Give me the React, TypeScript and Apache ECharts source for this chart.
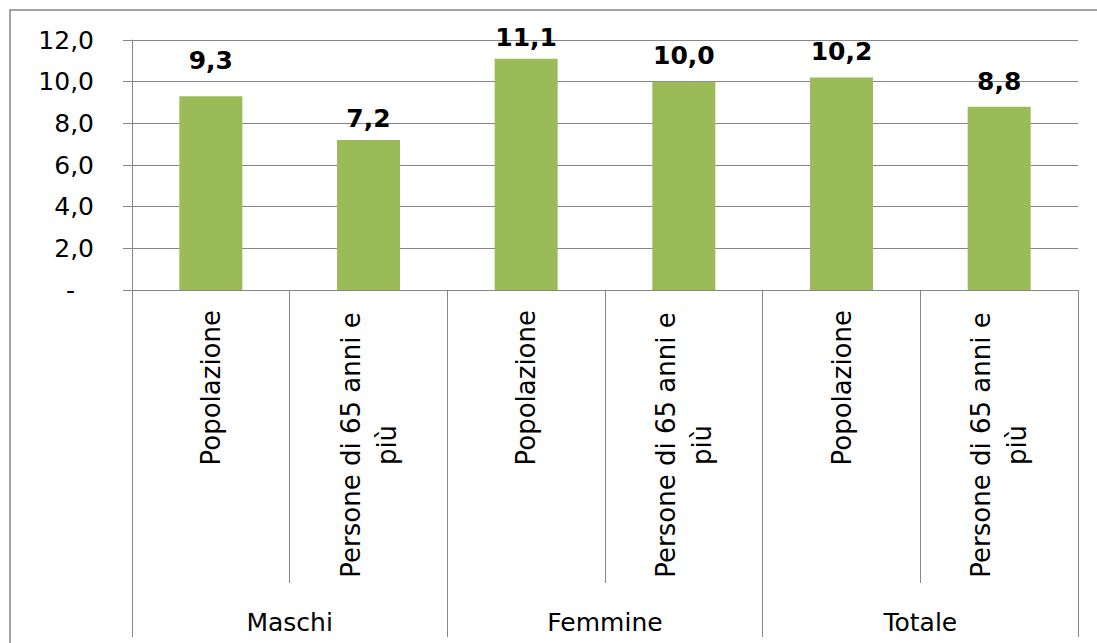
import React, { useEffect, useRef } from "react";
import * as echarts from "echarts";

const categories = [
  "Popolazione",
  "Persone di 65 anni e\npiù",
  "Popolazione",
  "Persone di 65 anni e\npiù",
  "Popolazione",
  "Persone di 65 anni e\npiù",
];
const groups = ["Maschi", "Femmine", "Totale"];
const values = [9.3, 7.2, 11.1, 10.0, 10.2, 8.8];

// style only: distance of each value label above its bar
const labelDistances = [23, 9, 9, 14, 14, 13];

const FONT = "Verdana, DejaVu Sans, sans-serif";
const GRAY = "#878787";

export default function App() {
  const ref = useRef<HTMLDivElement>(null);
  useEffect(() => {
    if (!ref.current) return;
    const chart = echarts.init(ref.current, null, { renderer: "svg" });
    const fmt = (v: number) => v.toFixed(1).replace(".", ",");
    chart.setOption({
      animation: false,
      backgroundColor: "#ffffff",
      textStyle: { fontFamily: FONT },
      graphic: [
        {
          type: "rect",
          shape: { x: 10, y: 10, width: 1300, height: 800 },
          style: { fill: "none", stroke: GRAY, lineWidth: 1.5 },
          silent: true,
        },
      ],
      grid: {
        left: 132,
        right: 19,
        top: 40,
        bottom: 353,
        outerBoundsMode: "none",
        containLabel: false,
      },
      yAxis: {
        type: "value",
        min: 0,
        max: 12,
        interval: 2,
        axisLine: { show: true, lineStyle: { color: GRAY, width: 1 } },
        axisTick: { show: true, length: 9, lineStyle: { color: GRAY, width: 1 } },
        splitLine: { show: true, lineStyle: { color: GRAY, width: 1 } },
        axisLabel: {
          margin: 38,
          color: "#000",
          fontSize: 25,
          fontFamily: FONT,
          formatter: (v: number) => (v === 0 ? "{d|-}" : fmt(v)),
          rich: { d: { fontSize: 25, fontFamily: FONT, color: "#000", padding: [0, 19, 0, 0] } },
        },
      },
      xAxis: [
        {
          type: "category",
          data: categories,
          position: "bottom",
          axisLine: { show: true, lineStyle: { color: GRAY, width: 1 } },
          axisTick: { show: true, length: 293, interval: 0, lineStyle: { color: GRAY, width: 1 } },
          axisLabel: {
            rotate: 90,
            margin: 20,
            interval: (i: number) => i % 2 === 0,
            color: "#000",
            fontSize: 26,
            fontFamily: FONT,
          },
        },
        {
          type: "category",
          data: categories,
          position: "bottom",
          axisLine: { show: false },
          axisTick: { show: false },
          axisLabel: {
            rotate: 90,
            align: "center",
            margin: 155,
            lineHeight: 36,
            interval: (i: number) => i % 2 === 1,
            color: "#000",
            fontSize: 26,
            fontFamily: FONT,
          },
        },
        {
          type: "category",
          data: groups,
          position: "bottom",
          axisLine: { show: false },
          axisTick: { show: true, length: 347, interval: 0, lineStyle: { color: GRAY, width: 1 } },
          axisLabel: {
            margin: 332,
            verticalAlign: "middle",
            interval: 0,
            color: "#000",
            fontSize: 25,
            fontFamily: FONT,
          },
        },
      ],
      series: [
        {
          type: "bar",
          xAxisIndex: 0,
          barWidth: 63,
          itemStyle: { color: "#9BBB59" },
          data: values.map((v, i) => ({
            value: v,
            label: { distance: labelDistances[i] },
          })),
          label: {
            show: true,
            position: "top",
            color: "#000",
            fontWeight: "bold",
            fontSize: 25,
            fontFamily: FONT,
            formatter: (p: any) => fmt(p.value),
          },
        },
      ],
    });
    return () => chart.dispose();
  }, []);
  return (
    <div
      ref={ref}
      style={{ position: "fixed", left: 0, top: 0, width: 1097, height: 643 }}
    />
  );
}
